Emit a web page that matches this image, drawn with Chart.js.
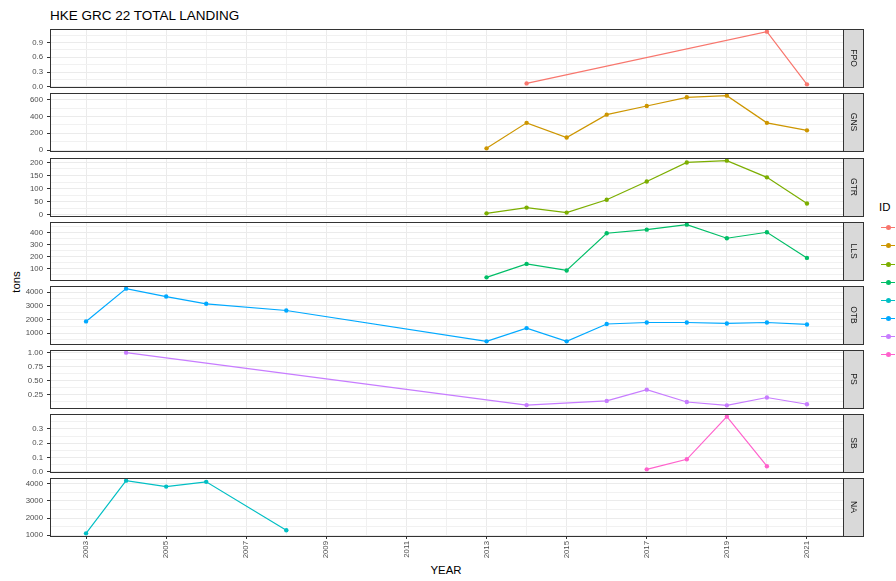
<!DOCTYPE html>
<html>
<head>
<meta charset="utf-8">
<title>HKE GRC 22 TOTAL LANDING</title>
<script src="https://cdn.jsdelivr.net/npm/chart.js@4.4.0/dist/chart.umd.min.js"></script>
<style>
  body { margin: 0; width: 896px; height: 581px; position: relative; overflow: hidden; background: #fff;
         font-family: "Liberation Sans", Arial, sans-serif; }
  canvas { position: absolute; left: 0; }
  .txt { position: absolute; white-space: nowrap; color: #000; line-height: 1; }
  .key-line { position: absolute; height: 1px; width: 14px; left: 881px; }
  .key-dot { position: absolute; width: 5px; height: 5px; border-radius: 50%; left: 885.5px; }
</style>
</head>
<body>
<div class="txt" style="left:50px; top:9px; font-size:13.5px;">HKE GRC 22 TOTAL LANDING</div>
<div class="txt" style="left:17px; top:282px; font-size:11.4px; transform:translate(-50%,-50%) rotate(-90deg);">tons</div>
<div class="txt" style="left:446px; top:571px; font-size:11.4px; transform:translate(-50%,-50%);">YEAR</div>
<div class="txt" style="left:879px; top:202px; font-size:11.4px;">ID</div>
<div id="legend"></div>

<script>
// ---------------------------------------------------------------------------
// Data
// ---------------------------------------------------------------------------
const panelIds = ["FPO", "GNS", "GTR", "LLS", "OTB", "PS", "SB", "NA"];
const legendIds = ["FPO", "GNS", "GTR", "LLS", "NA", "OTB", "PS", "SB"];
const yearTicks = [2003, 2005, 2007, 2009, 2011, 2013, 2015, 2017, 2019, 2021];

const fpoYears = [2014, 2020, 2021];
const fpoTons = [0.07, 1.12, 0.05];

const gnsYears = [2013, 2014, 2015, 2016, 2017, 2018, 2019, 2020, 2021];
const gnsTons = [20, 325, 150, 423, 526, 630, 650, 325, 235];

const gtrYears = [2013, 2014, 2015, 2016, 2017, 2018, 2019, 2020, 2021];
const gtrTons = [5, 27, 8, 57, 127, 200, 207, 143, 43];

const llsYears = [2013, 2014, 2015, 2016, 2017, 2018, 2019, 2020, 2021];
const llsTons = [27, 140, 85, 397, 427, 469, 355, 405, 190];

const otbYears = [2003, 2004, 2005, 2006, 2008, 2013, 2014, 2015, 2016, 2017, 2018, 2019, 2020, 2021];
const otbTons = [1850, 4250, 3670, 3140, 2650, 390, 1360, 390, 1660, 1770, 1770, 1700, 1770, 1630];

const psYears = [2004, 2014, 2016, 2017, 2018, 2019, 2020, 2021];
const psTons = [1.00, 0.065, 0.14, 0.34, 0.12, 0.06, 0.20, 0.08];

const sbYears = [2017, 2018, 2019, 2020];
const sbTons = [0.018, 0.088, 0.385, 0.04];

const naYears = [2003, 2004, 2005, 2006, 2008];
const naTons = [1100, 4190, 3840, 4120, 1280];

// y-axis tick labels per panel
const fpoTicks = [0, 0.3, 0.6, 0.9];
const gnsTicks = [0, 200, 400, 600];
const gtrTicks = [0, 50, 100, 150, 200];
const llsTicks = [0, 100, 200, 300, 400];
const otbTicks = [1000, 2000, 3000, 4000];
const psTicks = [0.25, 0.50, 0.75, 1.00];
const sbTicks = [0, 0.1, 0.2, 0.3];
const naTicks = [1000, 2000, 3000, 4000];

const idColors = {
  FPO: "#F8766D", GNS: "#CD9600", GTR: "#7CAE00", LLS: "#00BE67",
  NA: "#00BFC4", OTB: "#00A9FF", PS: "#C77CFF", SB: "#FF61CC",
};

const panels = [
  { id: "FPO", years: fpoYears, tons: fpoTons, ticks: fpoTicks, digits: 1 },
  { id: "GNS", years: gnsYears, tons: gnsTons, ticks: gnsTicks, digits: 0 },
  { id: "GTR", years: gtrYears, tons: gtrTons, ticks: gtrTicks, digits: 0 },
  { id: "LLS", years: llsYears, tons: llsTons, ticks: llsTicks, digits: 0 },
  { id: "OTB", years: otbYears, tons: otbTons, ticks: otbTicks, digits: 0 },
  { id: "PS",  years: psYears,  tons: psTons,  ticks: psTicks,  digits: 2 },
  { id: "SB",  years: sbYears,  tons: sbTons,  ticks: sbTicks,  digits: 1 },
  { id: "NA",  years: naYears,  tons: naTons,  ticks: naTicks,  digits: 0 },
];

// ---------------------------------------------------------------------------
// Layout
// ---------------------------------------------------------------------------
const PANEL_TOP = 29.3;
const PANEL_PITCH = 64.14;
const PANEL_H = 58;
const PAD = 3;
const X_AXIS_H = 42;
const X_MIN = 2002.1, X_MAX = 2021.9;

const TICK_FONT = { family: "'Liberation Sans', Arial, sans-serif", size: 7.8 };
const TICK_COLOR = "#4D4D4D";

const isOn = (v, list) => list.some(t => Math.abs(t - v) < 1e-9);

// no label overhang padding: panel box is fixed by the layout above
const noOverhang = scale => {
  scale.paddingTop = 0;
  scale.paddingBottom = 0;
  scale.paddingLeft = 0;
  scale.paddingRight = 0;
};

/**
 * Helper: frame around the panel and the grey strip with the facet label
 */
const panelFrame = {
  id: "panelFrame",
  afterDraw(chart, args, opts) {
    const { ctx, chartArea: a } = chart;
    const h = a.bottom - a.top;
    ctx.save();
    ctx.fillStyle = "#D9D9D9";
    ctx.fillRect(a.right, a.top, 20, h);
    ctx.strokeStyle = "#333333";
    ctx.lineWidth = 1;
    ctx.strokeRect(Math.round(a.left) + 0.5, Math.round(a.top) + 0.5,
      Math.round(a.right - a.left), Math.round(h));
    ctx.strokeRect(Math.round(a.right) + 0.5, Math.round(a.top) + 0.5, 20, Math.round(h));
    ctx.translate(a.right + 10.5, (a.top + a.bottom) / 2);
    ctx.rotate(Math.PI / 2);
    ctx.fillStyle = "#1A1A1A";
    ctx.font = "8.5px 'Liberation Sans', Arial, sans-serif";
    ctx.textAlign = "center";
    ctx.textBaseline = "middle";
    ctx.fillText(opts.label, 0, 0);
    ctx.restore();
  },
};

function buildYTicks(major, lo, hi) {
  const step = major[1] - major[0];
  const vals = [];
  for (let v = major[0] - step; v <= major[major.length - 1] + step + 1e-9; v += step / 2) {
    const r = Math.round(v * 1e6) / 1e6;
    if (r >= lo && r <= hi) vals.push(r);
  }
  return vals;
}

function renderPanel(panel, index) {
  const last = index === panels.length - 1;
  const top = Math.round(PANEL_TOP + index * PANEL_PITCH) - PAD;
  const height = PAD + PANEL_H + (last ? X_AXIS_H : PAD);

  const canvas = document.createElement("canvas");
  canvas.style.top = top + "px";
  canvas.style.width = "870px";
  canvas.style.height = height + "px";
  canvas.width = 870;
  canvas.height = height;
  document.body.appendChild(canvas);

  const minV = Math.min(...panel.tons), maxV = Math.max(...panel.tons);
  const span = maxV - minV;
  const lo = minV - 0.05 * span, hi = maxV + 0.05 * span;
  const yVals = buildYTicks(panel.ticks, lo, hi);
  const xVals = [];
  for (let y = 2003; y <= 2021; y++) xVals.push(y);

  const color = idColors[panel.id];

  new Chart(canvas.getContext("2d"), {
    type: "line",
    data: {
      datasets: [{
        label: panel.id,
        data: panel.years.map((yr, i) => ({ x: yr, y: panel.tons[i] })),
        borderColor: color,
        backgroundColor: color,
        borderWidth: 1.2,
        pointRadius: 2.2,
        pointBorderWidth: 0,
        tension: 0,
        fill: false,
      }],
    },
    options: {
      responsive: false,
      animation: false,
      events: [],
      layout: { autoPadding: false, padding: { top: PAD, bottom: last ? 0 : PAD, left: 0, right: 27 } },
      plugins: {
        legend: { display: false },
        tooltip: { enabled: false },
        panelFrame: { label: panel.id },
      },
      scales: {
        x: {
          type: "linear",
          min: X_MIN,
          max: X_MAX,
          afterBuildTicks: scale => { scale.ticks = xVals.map(v => ({ value: v })); },
          afterFit: scale => { scale.height = last ? X_AXIS_H : 0; noOverhang(scale); },
          border: { display: false },
          grid: {
            color: c => (c.tick && isOn(c.tick.value, yearTicks)) ? "#EBEBEB" : "#F1F1F1",
            lineWidth: 1,
            drawTicks: last,
            tickLength: 3,
            tickColor: c => (c.tick && isOn(c.tick.value, yearTicks)) ? "#333333" : "rgba(0,0,0,0)",
          },
          ticks: {
            display: last,
            autoSkip: false,
            minRotation: 90,
            maxRotation: 90,
            padding: 2,
            font: TICK_FONT,
            color: TICK_COLOR,
            callback: v => isOn(v, yearTicks) ? String(v) : "",
          },
        },
        y: {
          type: "linear",
          min: lo,
          max: hi,
          afterBuildTicks: scale => { scale.ticks = yVals.map(v => ({ value: v })); },
          afterFit: scale => { scale.width = 50; noOverhang(scale); },
          border: { display: false },
          grid: {
            color: c => (c.tick && isOn(c.tick.value, panel.ticks)) ? "#EBEBEB" : "#F1F1F1",
            lineWidth: 1,
            tickLength: 3,
            tickColor: c => (c.tick && isOn(c.tick.value, panel.ticks)) ? "#333333" : "rgba(0,0,0,0)",
          },
          ticks: {
            autoSkip: false,
            padding: 4,
            font: TICK_FONT,
            color: TICK_COLOR,
            callback: v => isOn(v, panel.ticks) ? Number(v).toFixed(panel.digits) : "",
          },
        },
      },
    },
    plugins: [panelFrame],
  });
}

panels.forEach(renderPanel);

// legend keys (labels fall outside the picture in the reference)
const legend = document.getElementById("legend");
legendIds.forEach((id, i) => {
  const y = 227.3 + i * 18.1;
  const line = document.createElement("div");
  line.className = "key-line";
  line.style.top = Math.round(y) + "px";
  line.style.background = idColors[id];
  const dot = document.createElement("div");
  dot.className = "key-dot";
  dot.style.top = (Math.round(y) - 2) + "px";
  dot.style.background = idColors[id];
  legend.appendChild(line);
  legend.appendChild(dot);
});
</script>
</body>
</html>
